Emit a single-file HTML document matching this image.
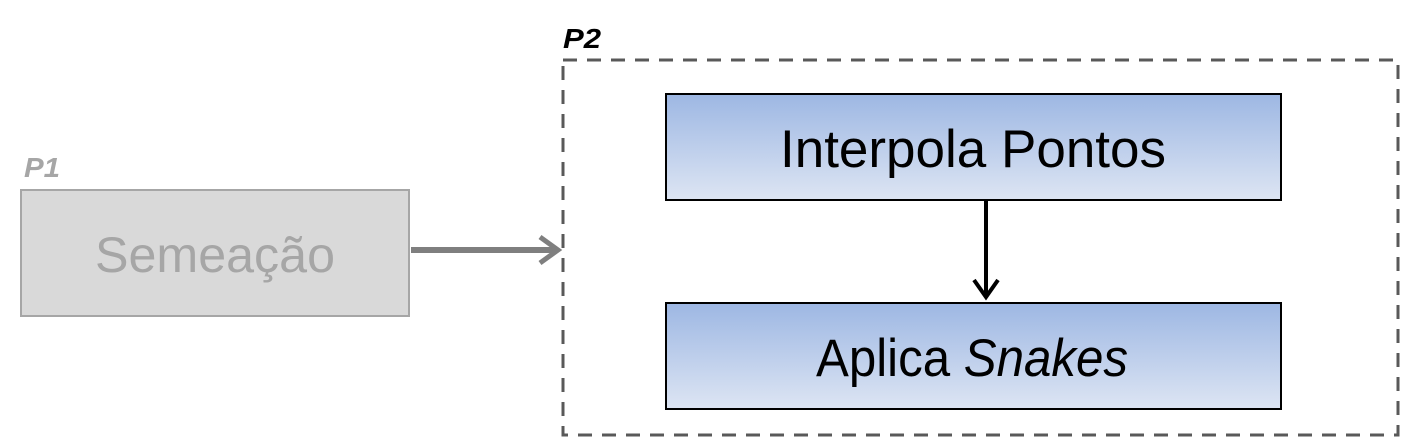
<!DOCTYPE html>
<html><head><meta charset="utf-8"><style>body{margin:0;background:#fff}svg{display:block}</style></head>
<body>
<svg width="1402" height="439" viewBox="0 0 1402 439" xmlns="http://www.w3.org/2000/svg" font-family="Liberation Sans, sans-serif">
<defs>
<linearGradient id="g" x1="0" y1="0" x2="0" y2="1">
<stop offset="0" stop-color="#9db7e3"/><stop offset="1" stop-color="#dde5f3"/>
</linearGradient>
</defs>
<rect x="21" y="190" width="388" height="126" fill="#d9d9d9" stroke="#a6a6a6" stroke-width="2"/>
<text x="215" y="272" font-size="50" fill="#a6a6a6" text-anchor="middle" textLength="240" lengthAdjust="spacingAndGlyphs">Semeação</text>
<text x="24" y="177" font-size="28" font-weight="bold" font-style="italic" fill="#a6a6a6" textLength="36" lengthAdjust="spacingAndGlyphs">P1</text>
<line x1="411" y1="250" x2="558" y2="250" stroke="#7f7f7f" stroke-width="6"/>
<polyline points="540,237 558,250 540,263" fill="none" stroke="#7f7f7f" stroke-width="5"/>
<rect x="563" y="60" width="835" height="375" fill="none" stroke="#595959" stroke-width="3" stroke-dasharray="14,10"/>
<text x="563" y="48" font-size="28" font-weight="bold" font-style="italic" fill="#000" textLength="38" lengthAdjust="spacingAndGlyphs">P2</text>
<rect x="666" y="94" width="615" height="106" fill="url(#g)" stroke="#000" stroke-width="2"/>
<text x="973" y="167" font-size="53" fill="#000" text-anchor="middle" textLength="386" lengthAdjust="spacingAndGlyphs">Interpola Pontos</text>
<rect x="666" y="303" width="615" height="106" fill="url(#g)" stroke="#000" stroke-width="2"/>
<text x="972" y="376" font-size="53" fill="#000" text-anchor="middle" textLength="312" lengthAdjust="spacingAndGlyphs">Aplica <tspan font-style="italic">Snakes</tspan></text>
<line x1="986" y1="201" x2="986" y2="296" stroke="#000" stroke-width="4"/>
<polyline points="974,280 986,297 998,280" fill="none" stroke="#000" stroke-width="4"/>
</svg>
</body></html>
